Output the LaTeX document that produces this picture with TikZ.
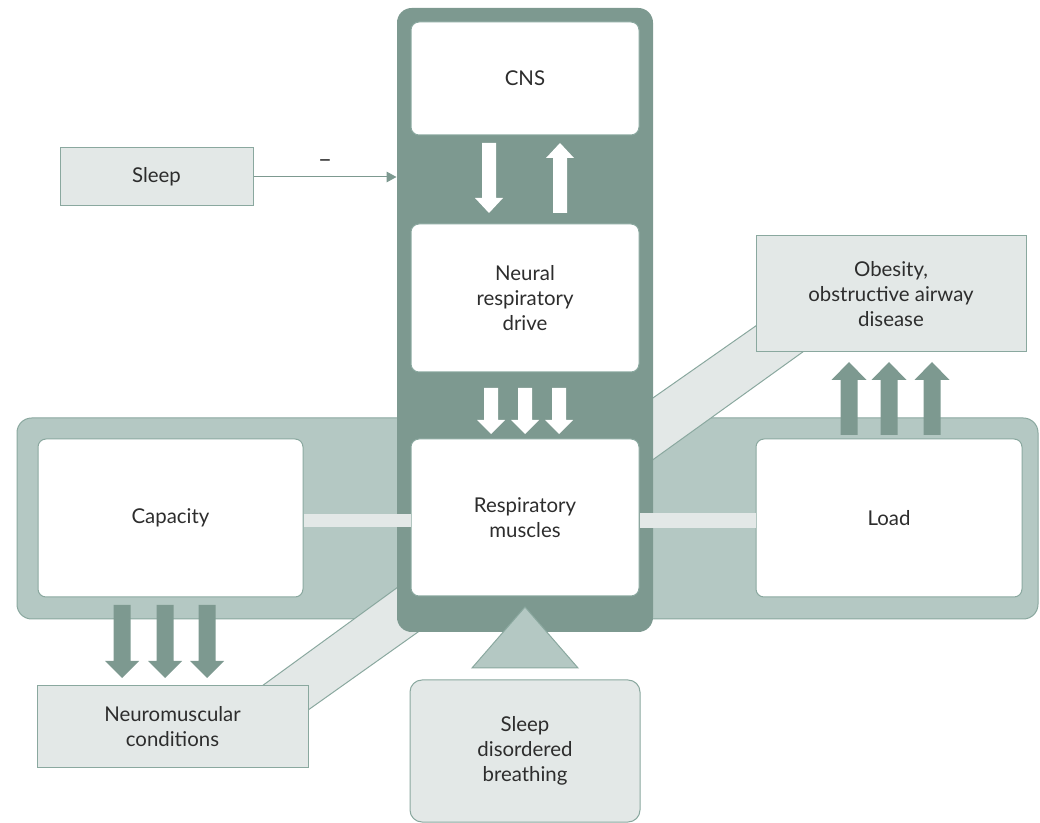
\documentclass[tikz,border=0pt]{standalone}
\usepackage{fontspec}
\setmainfont{Lato}
\usetikzlibrary{arrows.meta,calc}

\definecolor{colDark}{RGB}{125,153,144}
\definecolor{colMid}{RGB}{180,200,195}
\definecolor{colLight}{RGB}{227,232,231}
\definecolor{colEdge}{RGB}{138,168,159}
\definecolor{colText}{RGB}{45,45,45}

% block arrow: colour, x, y of shaft end, y of head base, y of tip, half shaft, half head
\newcommand{\blkarr}[7]{\fill[#1] ({#2-#6},#3) -- ({#2+#6},#3) -- ({#2+#6},#4) -- ({#2+#7},#4) -- (#2,#5) -- ({#2-#7},#4) -- ({#2-#6},#4) -- cycle ;}

\tikzset{every picture/.style={line width=0.75pt}}
\tikzset{
  boxtext/.style={align=center, text=colText, font=\fontsize{15.3}{18.75}\selectfont, inner sep=0pt},
  whitebox/.style={boxtext, draw=colEdge, fill=white, rounded corners=6pt},
  lightbox/.style={boxtext, draw=colEdge, fill=colLight},
  lightband/.style={fill=colLight, draw=colEdge},
}

\begin{document}
\begin{tikzpicture}[x=0.75pt,y=0.75pt,yscale=-1,xscale=1]
\useasboundingbox (0,0) rectangle (1040,823);

%Shape: Rounded Rect [id:band]
\node [fill=colMid, draw=colEdge, rounded corners=11pt, minimum width=765.75pt, minimum height=150.75pt] (band) at (527.5,518.5) {};

%Shape: Polygon [id:diagonal bands]
\draw [lightband] (640,407) -- (800,295) -- (850,318) -- (640,469) -- cycle ;
\draw [lightband] (420,571) -- (240,702) -- (280,730) -- (430,623.5) -- cycle ;

%Shape: Rounded Rect [id:column]
\node [fill=colDark, rounded corners=11pt, minimum width=192pt, minimum height=468pt] (column) at (525,320) {};

% Text Node
\node [whitebox, minimum width=171pt, minimum height=84.75pt] (cns) at (525,78.5) {CNS};
% Text Node
\node [whitebox, minimum width=171pt, minimum height=111pt] (nrd) at (525,298) {Neural\\respiratory\\drive};
% Text Node
\node [whitebox, minimum width=171pt, minimum height=117.75pt] (rm) at (525,517.5) {Respiratory\\muscles};
% Text Node
\node [whitebox, minimum width=198.75pt, minimum height=118.5pt] (cap) at (170.5,518) {Capacity};
% Text Node
\node [whitebox, minimum width=199.5pt, minimum height=118.5pt] (load) at (889,518) {Load};

%Shape: Rectangle [id:bars]
\fill [colLight] ($(cap.east)+(0,-4)$) rectangle ($(rm.west)+(0,10)$) ;
\fill [colLight] ($(rm.east)+(0,-4)$) rectangle ($(load.west)+(0,10)$) ;

%Shape: Triangle [id:triangle]
\draw [fill=colMid, draw=colEdge] (525,607) -- (578,668) -- (472,668) -- cycle ;

% Text Node
\node [lightbox, minimum width=144.75pt, minimum height=43.5pt] (sleep) at (156.5,177) {Sleep};
% Text Node
\node [lightbox, minimum width=202.5pt, minimum height=87pt] (obes) at (891,294) {Obesity,\\obstructive airway\\disease};
% Text Node
\node [lightbox, minimum width=203.25pt, minimum height=60.75pt] (neuro) at (172.5,726.5) {Neuromuscular\\conditions};
% Text Node
\node [lightbox, rounded corners=9pt, minimum width=172.5pt, minimum height=106.5pt] (sdb) at (525,751) {Sleep\\disordered\\breathing};

%Straight Lines [id:sleep arrow]
\draw [colDark, -{Triangle[length=7.5pt,width=8pt]}] (sleep.east) -- (sleep.east -| column.west) node [midway, above=7pt, inner sep=0pt, text=colText, font=\fontsize{18}{18}\selectfont] {--};

%Shape: Block Arrows
\blkarr{white}{489}{143}{198}{213}{7}{14}
\blkarr{white}{560}{213}{158}{143}{7}{14}
\foreach \x in {491,525,559} {\blkarr{white}{\x}{388}{420}{434}{7}{14}}
\foreach \x in {122,165,207} {\blkarr{colDark}{\x}{605}{661}{678}{8.5}{17}}
\foreach \x in {849,889,932} {\blkarr{colDark}{\x}{435}{380}{362}{8.5}{17.5}}

\end{tikzpicture}
\end{document}
